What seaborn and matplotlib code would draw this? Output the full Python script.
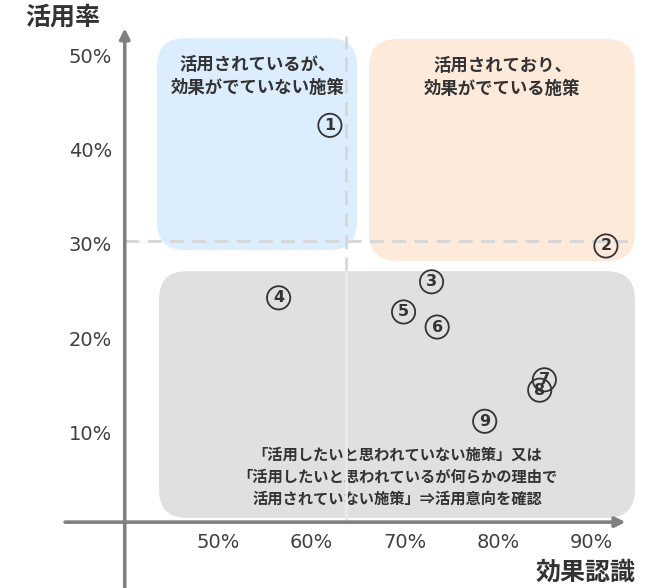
import numpy as np
import pandas as pd
import matplotlib
matplotlib.use("Agg")
import matplotlib.pyplot as plt
from matplotlib.patches import FancyBboxPatch
import seaborn as sns

# data (effect recognition %, utilisation %)
labels = ["1", "2", "3", "4", "5", "6", "7", "8", "9"]
effect = [62.0, 91.6, 72.9, 56.5, 69.9, 73.5, 85.0, 84.5, 78.6]
usage = [42.8, 30.0, 26.2, 24.5, 23.0, 21.4, 15.8, 14.7, 11.4]

x_ticks = [50, 60, 70, 80, 90]
y_ticks = [10, 20, 30, 40, 50]
x_avg = 63.7
y_avg = 30.5

box_texts = {
    "blue": "活用されているが、\n効果がでていない施策",
    "orange": "活用されており、\n効果がでている施策",
    "gray": "「活用したいと思われていない施策」又は\n「活用したいと思われているが何らかの理由で\n活用されていない施策」⇒活用意向を確認",
}

sns.set_theme(style="white")
plt.rcParams["font.family"] = ["Noto Sans CJK JP", "DejaVu Sans"]

fig = plt.figure(figsize=(6.49, 5.88), dpi=100)
ax = fig.add_axes([0, 0, 1, 1])
ax.set_xlim(26.62, 96.22)
ax.set_ylim(-6.29, 56.10)
ax.axis("off")

# quadrant boxes
def rbox(x0, x1, y0, y1, color):
    p = FancyBboxPatch((x0, y0), x1 - x0, y1 - y0,
                       boxstyle="round,pad=0,rounding_size=3.0",
                       fc=color, ec="none", zorder=1)
    ax.add_patch(p)

rbox(43.46, 64.91, 29.56, 52.05, "#dcedfd")
rbox(66.19, 94.71, 28.39, 51.96, "#fdeadb")
rbox(43.67, 94.71, 1.14, 27.33, "#e0e0e0")

txt = dict(color="#333333", fontweight="bold", ha="center", va="center", zorder=3)
ax.text(54.2, 48.0, box_texts["blue"], fontsize=12.5, linespacing=1.35, **txt)
ax.text(80.5, 47.9, box_texts["orange"], fontsize=12.5, linespacing=1.35, **txt)
ax.text(69.2, 5.5, box_texts["gray"], fontsize=11, linespacing=1.45, **txt)

# average lines
ax.plot([40, 94.6], [y_avg, y_avg], color="#d6d6d6", lw=2, ls=(0, (5, 3)), zorder=4)
ax.plot([x_avg, x_avg], [27.33, 52.3], color="#d6d6d6", lw=2, ls=(0, (5, 3)), zorder=4)
ax.plot([x_avg, x_avg], [0.9, 27.33], color="#ebebeb", lw=2, zorder=4)

# axes with arrows
ax.annotate("", xy=(93.7, 0.7), xytext=(33.6, 0.7),
            arrowprops=dict(arrowstyle="-|>", color="#808080", lw=2.6,
                            mutation_scale=15, shrinkA=0, shrinkB=0), zorder=5)
ax.annotate("", xy=(40, 53.1), xytext=(40, -6.3),
            arrowprops=dict(arrowstyle="-|>", color="#808080", lw=2.6,
                            mutation_scale=15, shrinkA=0, shrinkB=0), zorder=5)

for t in x_ticks:
    ax.text(t, -1.41, f"{t}%", fontsize=14, color="#404040", ha="center",
            va="center", family="DejaVu Sans")
for t in y_ticks:
    ax.text(38.63, t, f"{t}%", fontsize=14, color="#404040", ha="right",
            va="center", family="DejaVu Sans")

ax.text(33.3, 54.2, "活用率", fontsize=18, fontweight="bold", color="#333333",
        ha="center", va="center")
ax.text(94.83, -4.72, "効果認識", fontsize=18, fontweight="bold", color="#333333",
        ha="right", va="center")

# circled numbers
df = pd.DataFrame({"effect": effect, "usage": usage, "label": labels})
sns.scatterplot(data=df, x="effect", y="usage", ax=ax, s=280, marker="o",
                facecolor="none", edgecolor="#333333", linewidth=1.3, zorder=6,
                legend=False)
for _, r in df.iterrows():
    ax.text(r["effect"], r["usage"], r["label"], fontsize=11.5, fontweight="bold",
            color="#333333", ha="center", va="center", zorder=7,
            family="DejaVu Sans")

fig.savefig("out.png", dpi=100)
